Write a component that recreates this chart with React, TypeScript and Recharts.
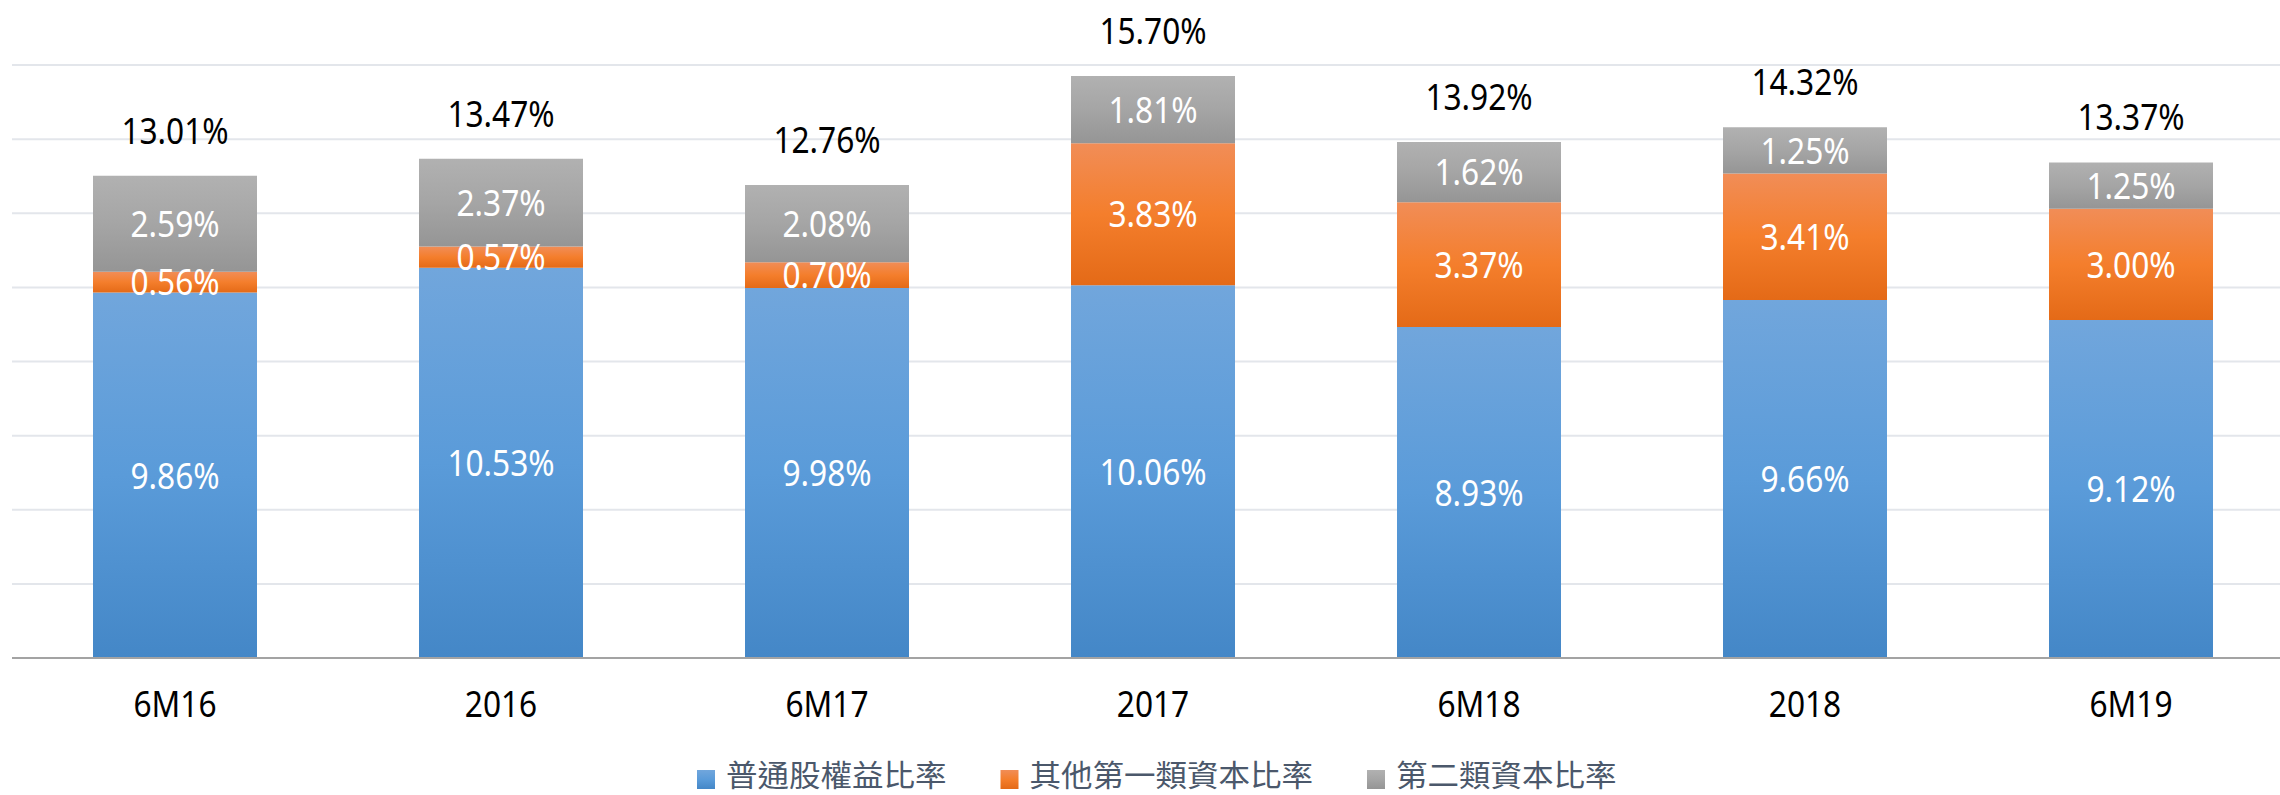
import { BarChart, Bar, XAxis, YAxis, CartesianGrid, Legend, LabelList } from "recharts";

const periods = ["6M16", "2016", "6M17", "2017", "6M18", "2018", "6M19"];
const cet1 = [9.86, 10.53, 9.98, 10.06, 8.93, 9.66, 9.12];
const at1 = [0.56, 0.57, 0.7, 3.83, 3.37, 3.41, 3.0];
const tier2 = [2.59, 2.37, 2.08, 1.81, 1.62, 1.25, 1.25];
const totals = [13.01, 13.47, 12.76, 15.7, 13.92, 14.32, 13.37];
const yTicks = [0, 2, 4, 6, 8, 10, 12, 14, 16];

const seriesNames = ["普通股權益比率", "其他第一類資本比率", "第二類資本比率"];

const data = periods.map((p, i) => ({
  period: p,
  cet1: cet1[i],
  at1: at1[i],
  tier2: tier2[i],
}));

const FONT = "'Noto Sans', sans-serif";
const SQUEEZE = 0.88;

const pct = (v: number) => `${v.toFixed(2)}%`;

function SegLabel(props: any) {
  const { x, y, width, height, value } = props;
  const cx = x + width / 2;
  const base = y + height / 2 + 13.3;
  return (
    <text
      transform={`translate(${cx},${base}) scale(${SQUEEZE},1)`}
      textAnchor="middle"
      fill="#fff"
      fontSize={36}
      fontFamily={FONT}
    >
      {pct(value)}
    </text>
  );
}

function TotalLabel(props: any) {
  const { x, y, width, index } = props;
  const cx = x + width / 2;
  return (
    <text
      transform={`translate(${cx},${y - 32}) scale(${SQUEEZE},1)`}
      textAnchor="middle"
      fill="#000"
      fontSize={36}
      fontFamily={FONT}
    >
      {pct(totals[index])}
    </text>
  );
}

function PeriodTick(props: any) {
  const { x, y, payload } = props;
  return (
    <text
      transform={`translate(${x},${y + 58.7}) scale(${SQUEEZE},1)`}
      textAnchor="middle"
      fill="#000"
      fontSize={36}
      fontFamily={FONT}
    >
      {payload.value}
    </text>
  );
}

const legendFills = ["url(#gBlue)", "url(#gOrange)", "url(#gGray)"];

// legend drawn as svg so the squeezed CJK text keeps the reference widths
function LegendBox() {
  let cursor = 0;
  const items = seriesNames.map((name, i) => {
    const left = cursor;
    const textW = name.length * 31.5;
    cursor += 18 + 11 + textW + 54;
    return (
      <g key={name}>
        <rect x={left} y={25} width={18} height={19} fill={legendFills[i]} />
        <text
          x={left + 29}
          y={41}
          fontSize={30}
          fill="#4B586B"
          fontFamily="'Noto Sans CJK TC', sans-serif"
          textLength={textW}
          lengthAdjust="spacingAndGlyphs"
        >
          {name}
        </text>
      </g>
    );
  });
  return (
    <svg width={960} height={50} style={{ display: "block" }}>
      {items}
    </svg>
  );
}

export default function App() {
  return (
    <div style={{ position: "absolute", left: 0, top: 0, width: 2280, height: 795, overflow: "hidden", background: "#fff" }}>
      <BarChart
        width={2300}
        height={795}
        data={data}
        margin={{ top: 65, right: 6, bottom: 77, left: 12 }}
        barSize={164}
      >
        <defs>
          <linearGradient id="gBlue" x1="0" y1="0" x2="0" y2="1">
            <stop offset="0%" stopColor="#71A6DC" />
            <stop offset="50%" stopColor="#5A9BD9" />
            <stop offset="100%" stopColor="#4487C7" />
          </linearGradient>
          <linearGradient id="gOrange" x1="0" y1="0" x2="0" y2="1">
            <stop offset="0%" stopColor="#F18D57" />
            <stop offset="50%" stopColor="#F47E2C" />
            <stop offset="100%" stopColor="#E46A17" />
          </linearGradient>
          <linearGradient id="gGray" x1="0" y1="0" x2="0" y2="1">
            <stop offset="0%" stopColor="#B1B1B1" />
            <stop offset="50%" stopColor="#A5A5A5" />
            <stop offset="100%" stopColor="#959595" />
          </linearGradient>
        </defs>
        <CartesianGrid vertical={false} stroke="#E3E6EB" strokeWidth={2} />
        <XAxis
          dataKey="period"
          height={60}
          tickLine={false}
          tickSize={0}
          tickMargin={0}
          axisLine={{ stroke: "#A3A3A3", strokeWidth: 2 }}
          tick={<PeriodTick />}
          interval={0}
        />
        <YAxis hide domain={[0, 16]} ticks={yTicks} />
        <Legend
          verticalAlign="middle"
          align="center"
          wrapperStyle={{ top: 745, left: 697, width: 960 }}
          content={() => <LegendBox />}
        />
        <Bar dataKey="cet1" name={seriesNames[0]} stackId="a" fill="url(#gBlue)" isAnimationActive={false}>
          <LabelList dataKey="cet1" content={<SegLabel />} />
        </Bar>
        <Bar dataKey="at1" name={seriesNames[1]} stackId="a" fill="url(#gOrange)" isAnimationActive={false}>
          <LabelList dataKey="at1" content={<SegLabel />} />
        </Bar>
        <Bar dataKey="tier2" name={seriesNames[2]} stackId="a" fill="url(#gGray)" isAnimationActive={false}>
          <LabelList dataKey="tier2" content={<SegLabel />} />
          <LabelList dataKey="tier2" content={<TotalLabel />} />
        </Bar>
      </BarChart>
    </div>
  );
}
